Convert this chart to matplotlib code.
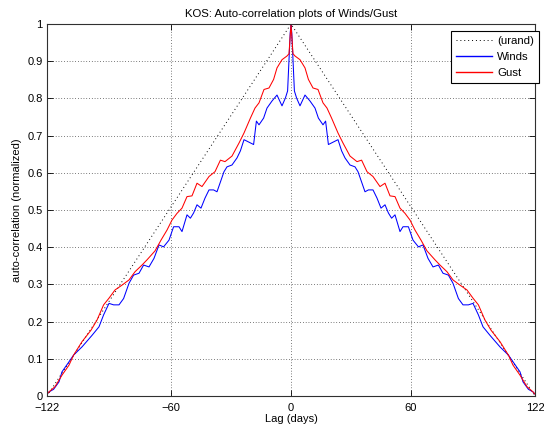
import matplotlib
matplotlib.use("Agg")
import matplotlib.pyplot as plt
import numpy as np

plt.rcParams["font.family"] = ["Liberation Sans", "DejaVu Sans"]

# right half of the (symmetric) auto-correlation, lag in days
GUST_LAG = [0, 1, 2, 4.5, 7, 8.7, 11, 13.5, 16, 18, 20.3, 23.5, 26, 29.5, 33,
            35.3, 38, 41, 44.5, 47, 49.5, 52, 54.5, 57, 59.5, 62, 65, 68, 72,
            74.5, 78, 81, 84.5, 88, 91, 93.7, 97, 100, 104.5, 108.7, 111,
            114.5, 118, 121, 122]
GUST = [1.0, 0.92, 0.914, 0.904, 0.882, 0.851, 0.828, 0.824, 0.788, 0.774,
        0.747, 0.707, 0.68, 0.645, 0.63, 0.634, 0.603, 0.59, 0.563, 0.572,
        0.538, 0.536, 0.505, 0.491, 0.473, 0.446, 0.419, 0.39, 0.366, 0.352,
        0.334, 0.312, 0.298, 0.285, 0.263, 0.245, 0.204, 0.177, 0.146, 0.11,
        0.083, 0.056, 0.025, 0.011, 0.005]

WINDS_LAG = [0, 0.4, 1.7, 2.8, 4.5, 7, 9.5, 12, 13.7, 16, 17.3, 18.7, 22, 23.5,
             25.3, 27, 29.5, 32, 33.5, 37, 38.7, 41, 43, 45, 47, 48.7, 50.3,
             52, 54.5, 56, 58.7, 61, 63.7, 66, 68.5, 71, 73.7, 76, 78.7, 81,
             83.7, 86, 88.7, 91, 93.7, 96, 99.5, 104.5, 108.7, 111, 114.5,
             116, 118.7, 121, 122]
WINDS = [1.0, 0.975, 0.82, 0.801, 0.78, 0.809, 0.793, 0.774, 0.747, 0.729,
         0.739, 0.676, 0.685, 0.689, 0.659, 0.64, 0.621, 0.616, 0.603, 0.549,
         0.554, 0.554, 0.532, 0.505, 0.514, 0.492, 0.478, 0.487, 0.442, 0.455,
         0.455, 0.419, 0.401, 0.406, 0.37, 0.347, 0.352, 0.33, 0.325, 0.303,
         0.262, 0.245, 0.245, 0.249, 0.218, 0.186, 0.163, 0.132, 0.11, 0.092,
         0.065, 0.038, 0.018, 0.011, 0.005]

URAND_LAG = [-122, 0, 122]
URAND = [0, 1, 0]

X_TICKS = [-122, -60, 0, 60, 122]
Y_TICKS = [0, 0.1, 0.2, 0.3, 0.4, 0.5, 0.6, 0.7, 0.8, 0.9, 1]
Y_TICK_LABELS = ["0", "0.1", "0.2", "0.3", "0.4", "0.5", "0.6", "0.7", "0.8", "0.9", "1"]


def mirror(lag, vals):
    lag = np.asarray(lag, dtype=float)
    vals = np.asarray(vals, dtype=float)
    return (np.concatenate([-lag[:0:-1], lag]),
            np.concatenate([vals[:0:-1], vals]))


fig = plt.figure(figsize=(5.44, 4.32), dpi=100)
ax = fig.add_axes([47 / 544, 36 / 432, 488 / 544, 372 / 432])

wl, wv = mirror(WINDS_LAG, WINDS)
gl, gv = mirror(GUST_LAG, GUST)

ax.plot(URAND_LAG, URAND, color="black", linestyle=(0, (1, 3)), linewidth=0.7,
        label="(urand)")
ax.plot(wl, wv, color="#0000ff", linewidth=0.75, label="Winds")
ax.plot(gl, gv, color="#ff0000", linewidth=0.75, label="Gust")

ax.set_xlim(-122, 122)
ax.set_ylim(0, 1)
ax.set_xticks(X_TICKS)
ax.set_yticks(Y_TICKS)
ax.set_yticklabels(Y_TICK_LABELS)
ax.tick_params(direction="in", length=4, width=0.6, labelsize=8,
               top=True, right=True)
ax.tick_params(axis="x", pad=5)
ax.tick_params(axis="y", pad=3)
ax.grid(True, color="black", linestyle=(0, (1, 3)), linewidth=0.5)

for s in ax.spines.values():
    s.set_linewidth(0.8)
    s.set_color("#303030")

ax.set_title("KOS: Auto-correlation plots of Winds/Gust", fontsize=8.2, pad=5)
ax.set_xlabel("Lag (days)", fontsize=8, labelpad=1)
ax.set_ylabel("auto-correlation (normalized)", fontsize=8, labelpad=4)

leg = fig.legend(loc="upper right", bbox_to_anchor=(539 / 544, 1 - 31 / 432),
                 bbox_transform=fig.transFigure, borderaxespad=0, fontsize=8.2,
                 fancybox=False, framealpha=1, edgecolor="black",
                 handlelength=3.2, labelspacing=0.5, borderpad=0.45,
                 handletextpad=0.4)
leg.get_frame().set_linewidth(0.8)
for line in leg.get_lines()[1:]:
    line.set_linewidth(1.0)

fig.savefig("out.png", dpi=100)
